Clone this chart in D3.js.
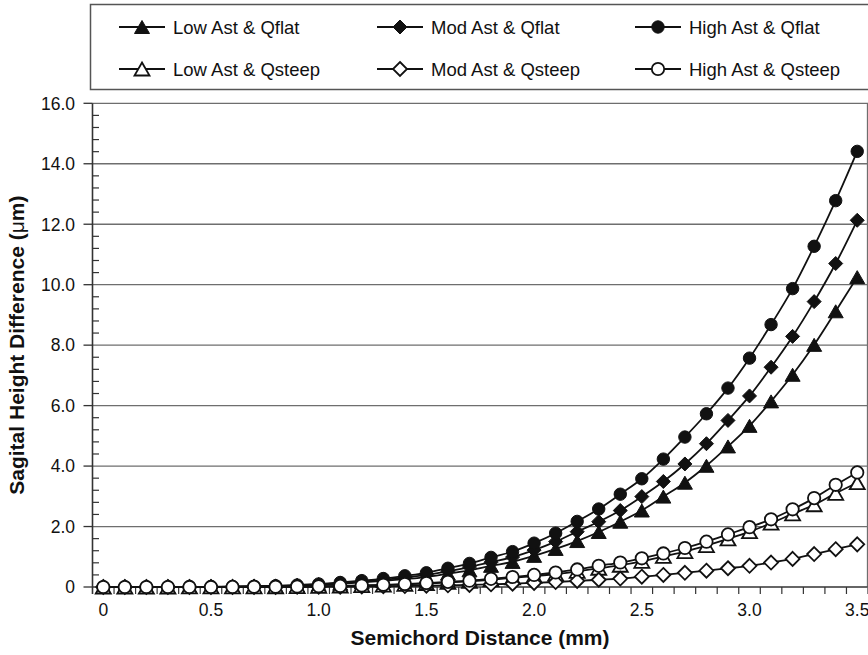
<!DOCTYPE html>
<html>
<head>
<meta charset="utf-8">
<script src="https://cdn.jsdelivr.net/npm/d3@7"></script>
<style>
  body { margin: 0; background: #fff; }
  svg { display: block; font-family: 'Liberation Sans', Arial, sans-serif; }
</style>
</head>
<body>
<div class="container"></div>
<script>
// categories: semichord distance (mm)
const distances = [0, 0.1, 0.2, 0.3, 0.4, 0.5, 0.6, 0.7, 0.8, 0.9,
  1.0, 1.1, 1.2, 1.3, 1.4, 1.5, 1.6, 1.7, 1.8, 1.9,
  2.0, 2.1, 2.2, 2.3, 2.4, 2.5, 2.6, 2.7, 2.8, 2.9,
  3.0, 3.1, 3.2, 3.3, 3.4, 3.5];

// sagital height difference (um)
const lowFlat = [0, 0, 0, 0.001, 0.002, 0.004, 0.009, 0.018, 0.028, 0.046,
  0.071, 0.107, 0.15, 0.20, 0.26, 0.33, 0.44, 0.55, 0.70, 0.83,
  1.03, 1.26, 1.52, 1.82, 2.16, 2.53, 2.99, 3.45, 4.01, 4.65,
  5.33, 6.14, 7.02, 8.01, 9.12, 10.25];
const modFlat = [0, 0, 0, 0.001, 0.002, 0.005, 0.011, 0.021, 0.034, 0.055,
  0.084, 0.126, 0.18, 0.24, 0.31, 0.40, 0.52, 0.66, 0.82, 0.99,
  1.22, 1.50, 1.83, 2.16, 2.53, 2.99, 3.49, 4.07, 4.74, 5.51,
  6.32, 7.27, 8.29, 9.44, 10.70, 12.13];
const highFlat = [0, 0, 0, 0.001, 0.003, 0.006, 0.013, 0.025, 0.04, 0.065,
  0.10, 0.15, 0.21, 0.28, 0.37, 0.47, 0.62, 0.78, 0.98, 1.17,
  1.45, 1.78, 2.17, 2.58, 3.07, 3.58, 4.23, 4.96, 5.73, 6.58,
  7.57, 8.68, 9.87, 11.27, 12.78, 14.41];
const lowSteep = [0, 0, 0, 0, 0.001, 0.002, 0.003, 0.005, 0.009, 0.014,
  0.022, 0.033, 0.047, 0.065, 0.087, 0.115, 0.15, 0.19, 0.24, 0.30,
  0.36, 0.43, 0.52, 0.62, 0.72, 0.85, 1.01, 1.17, 1.37, 1.59,
  1.83, 2.11, 2.42, 2.72, 3.10, 3.45];
const modSteep = [0, 0, 0, 0, 0, 0.001, 0.001, 0.002, 0.003, 0.005,
  0.008, 0.012, 0.017, 0.024, 0.032, 0.042, 0.055, 0.07, 0.09, 0.11,
  0.135, 0.165, 0.20, 0.24, 0.28, 0.34, 0.40, 0.47, 0.54, 0.62,
  0.70, 0.81, 0.93, 1.09, 1.25, 1.41];
const highSteep = [0, 0, 0, 0, 0.001, 0.002, 0.003, 0.006, 0.01, 0.016,
  0.025, 0.037, 0.052, 0.072, 0.097, 0.13, 0.17, 0.21, 0.27, 0.33,
  0.40, 0.48, 0.58, 0.70, 0.81, 0.95, 1.11, 1.29, 1.50, 1.74,
  1.98, 2.24, 2.57, 2.94, 3.38, 3.79];

const seriesNames = ['Low Ast & Qflat', 'Mod Ast & Qflat', 'High Ast & Qflat',
  'Low Ast & Qsteep', 'Mod Ast & Qsteep', 'High Ast & Qsteep'];
const yTicks = [0, 2, 4, 6, 8, 10, 12, 14, 16];
const xLabelled = [0, 0.5, 1.0, 1.5, 2.0, 2.5, 3.0, 3.5];

const series = [
  {name: seriesNames[0], values: lowFlat, shape: 'triangle', open: false},
  {name: seriesNames[1], values: modFlat, shape: 'diamond', open: false},
  {name: seriesNames[2], values: highFlat, shape: 'circle', open: false},
  {name: seriesNames[3], values: lowSteep, shape: 'triangle', open: true},
  {name: seriesNames[4], values: modSteep, shape: 'diamond', open: true},
  {name: seriesNames[5], values: highSteep, shape: 'circle', open: true}
];

const width = 868, height = 655;
const svg = d3.select('.container')
  .append('svg')
  .attr('width', width)
  .attr('height', height);

// category axis, ticks sit between categories
const x = d3.scalePoint()
  .domain(distances)
  .range([92.5, 868])
  .padding(0.5);
const y = d3.scaleLinear()
  .domain([0, 16])
  .range([587, 103.3]);

const left = 92.5, right = 867.5;
const gridColor = '#6e6e6e';

// gridlines
svg.append('g')
  .selectAll('line')
  .data(yTicks.filter(v => v > 0 && v < 16))
  .join('line')
  .attr('x1', left).attr('x2', right)
  .attr('y1', d => y(d)).attr('y2', d => y(d))
  .attr('stroke', gridColor)
  .attr('stroke-width', 1.3);

// plot border top + right
svg.append('path')
  .attr('d', `M${left},${y(16)}H${right}V${y(0)}`)
  .attr('fill', 'none')
  .attr('stroke', gridColor)
  .attr('stroke-width', 1.3);

// y axis
const yAxis = svg.append('g');
yAxis.append('line')
  .attr('x1', left).attr('x2', left)
  .attr('y1', y(16)).attr('y2', y(0) + 7)
  .attr('stroke', '#333').attr('stroke-width', 1.6);
yAxis.selectAll('.major')
  .data(yTicks)
  .join('line')
  .attr('x1', left - 9).attr('x2', left)
  .attr('y1', d => y(d)).attr('y2', d => y(d))
  .attr('stroke', '#333').attr('stroke-width', 1.3);
yAxis.selectAll('.minor')
  .data(d3.range(0.4, 16, 0.4).filter(v => Math.abs(v / 2 - Math.round(v / 2)) > 0.01))
  .join('line')
  .attr('x1', left).attr('x2', left + 6.5)
  .attr('y1', d => y(d)).attr('y2', d => y(d))
  .attr('stroke', '#333').attr('stroke-width', 1.2);
yAxis.selectAll('text')
  .data(yTicks)
  .join('text')
  .attr('x', 75)
  .attr('y', d => y(d))
  .attr('dy', '0.36em')
  .attr('text-anchor', 'end')
  .attr('font-size', 17.5)
  .attr('fill', '#111')
  .text(d => d === 0 ? '0' : d.toFixed(1));

// x axis
const xAxis = svg.append('g');
const step = x.step();
xAxis.append('line')
  .attr('x1', left).attr('x2', right)
  .attr('y1', y(0)).attr('y2', y(0))
  .attr('stroke', '#333').attr('stroke-width', 1.6);
xAxis.selectAll('.tick')
  .data(distances)
  .join('line')
  .attr('x1', d => x(d) + step / 2).attr('x2', d => x(d) + step / 2)
  .attr('y1', y(0)).attr('y2', y(0) + 7)
  .attr('stroke', '#333').attr('stroke-width', 1.2);
xAxis.selectAll('text')
  .data(xLabelled)
  .join('text')
  .attr('x', d => x(d))
  .attr('y', 616)
  .attr('text-anchor', 'middle')
  .attr('font-size', 17.5)
  .attr('fill', '#111')
  .text(d => d === 0 ? '0' : d.toFixed(1));

// axis titles
svg.append('text')
  .attr('x', (left + right) / 2)
  .attr('y', 645)
  .attr('text-anchor', 'middle')
  .attr('font-size', 21)
  .attr('font-weight', 'bold')
  .attr('fill', '#111')
  .text('Semichord Distance (mm)');

const yTitle = svg.append('text')
  .attr('transform', `translate(24,${(y(0) + y(16)) / 2}) rotate(-90)`)
  .attr('text-anchor', 'middle')
  .attr('font-size', 21)
  .attr('font-weight', 'bold')
  .attr('fill', '#111');
yTitle.append('tspan').text('Sagital Height Difference (');
yTitle.append('tspan').attr('font-weight', 'normal').text('\u03bc');
yTitle.append('tspan').text('m)');

// markers
function markerPath(shape) {
  if (shape === 'triangle') return 'M0,-6.5L7.5,6.5L-7.5,6.5Z';
  if (shape === 'diamond') return 'M0,-7L7,0L0,7L-7,0Z';
  return d3.symbol(d3.symbolCircle, Math.PI * 6.2 * 6.2)();
}

const line = d3.line()
  .x((d, i) => x(distances[i]))
  .y(d => y(d))
  .curve(d3.curveCatmullRom.alpha(0.5));

series.forEach(function(s) {
  const g = svg.append('g');
  g.append('path')
    .attr('d', line(s.values))
    .attr('fill', 'none')
    .attr('stroke', '#111')
    .attr('stroke-width', 1.8);
  g.selectAll('path.m')
    .data(s.values)
    .join('path')
    .attr('class', 'm')
    .attr('d', markerPath(s.shape))
    .attr('transform', (d, i) => `translate(${x(distances[i])},${y(d)})`)
    .attr('fill', s.open ? '#fff' : '#111')
    .attr('stroke', '#111')
    .attr('stroke-width', s.open ? 1.8 : 1);
});

// legend
svg.append('rect')
  .attr('x', 90.5).attr('y', 4.5)
  .attr('width', 820).attr('height', 85)
  .attr('fill', '#fff')
  .attr('stroke', '#555')
  .attr('stroke-width', 1.5);

const colX = [173, 431, 689];
const rowY = [27, 69];
const legend = svg.append('g')
  .selectAll('g')
  .data(series)
  .join('g')
  .attr('transform', (d, i) => `translate(${colX[i % 3]},${rowY[Math.floor(i / 3)]})`);
legend.append('line')
  .attr('x1', -54).attr('x2', -8)
  .attr('stroke', '#111').attr('stroke-width', 1.8);
legend.append('path')
  .attr('d', d => markerPath(d.shape))
  .attr('transform', 'translate(-31,0)')
  .attr('fill', d => d.open ? '#fff' : '#111')
  .attr('stroke', '#111')
  .attr('stroke-width', d => d.open ? 1.8 : 1);
legend.append('text')
  .attr('y', 0)
  .attr('dy', '0.36em')
  .attr('font-size', 18.5)
  .attr('fill', '#111')
  .text(d => d.name);
</script>
</body>
</html>
